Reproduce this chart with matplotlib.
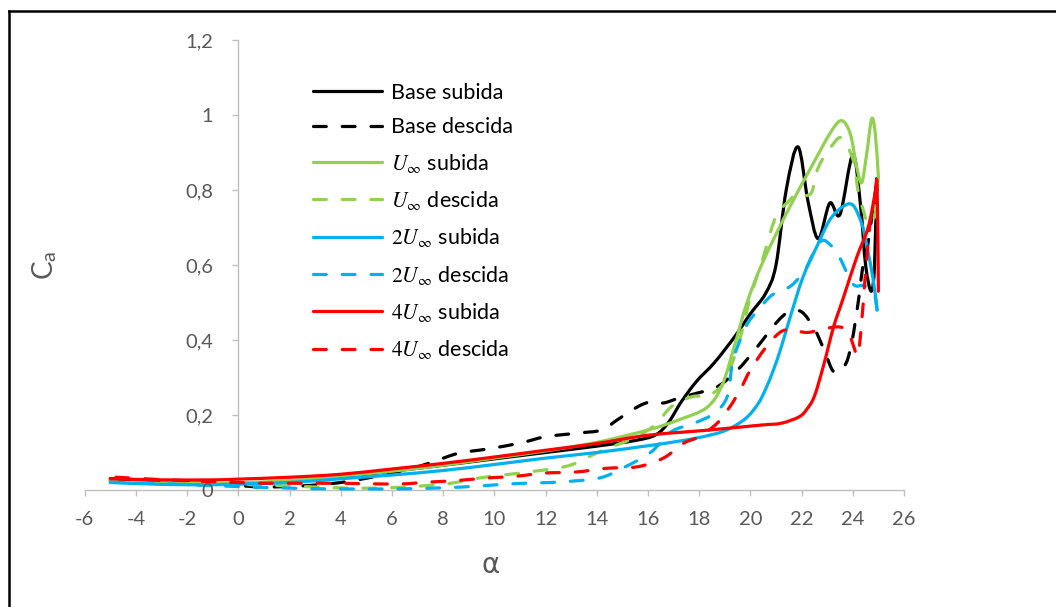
import numpy as np
import matplotlib
matplotlib.use("Agg")
import matplotlib.pyplot as plt
from matplotlib.path import Path
from matplotlib.patches import PathPatch
from matplotlib.lines import Line2D

plt.rcParams['font.family'] = ['Lato', 'DejaVu Sans']
plt.rcParams['mathtext.fontset'] = 'stix'

# --- Lift coefficient loops: angle of attack (deg) vs C_a ---
base_up_a = [-5, -3, -1, 0, 2, 4, 6, 8, 10, 12, 14, 15.5, 16.3, 16.8, 17.3, 17.9,
             18.6, 19.4, 20.0, 20.6, 21.0, 21.4, 21.86, 22.25, 22.65, 23.1, 23.5,
             24.0, 24.3, 24.5, 24.72, 24.85, 24.93]
base_up_c = [0.025, 0.019, 0.016, 0.017, 0.022, 0.035, 0.05, 0.066, 0.083, 0.1,
             0.117, 0.132, 0.147, 0.18, 0.235, 0.29, 0.34, 0.41, 0.47, 0.525, 0.6,
             0.8, 0.915, 0.77, 0.67, 0.765, 0.735, 0.893, 0.76, 0.6, 0.53, 0.6, 0.83]

base_down_a = [24.93, 24.6, 24.4, 24.25, 24.1, 23.95, 23.75, 23.45, 23.2, 22.9, 22.5,
               22.0, 21.5, 21.0, 20.25, 19.5, 18.7, 17.9, 17.2, 16.6, 16.1, 15.6,
               14.8, 14.2, 13.3, 12.0, 11.0, 9.7, 8.6, 7.6, 6.8, 5.5, 4.0, 2.5, 1.0,
               0, -1.5, -3, -5]
base_down_c = [0.82, 0.66, 0.6, 0.52, 0.45, 0.39, 0.34, 0.315, 0.32, 0.37, 0.43,
               0.475, 0.475, 0.445, 0.38, 0.32, 0.275, 0.258, 0.245, 0.232, 0.235,
               0.222, 0.187, 0.16, 0.152, 0.142, 0.125, 0.109, 0.098, 0.075, 0.058,
               0.038, 0.02, 0.011, 0.008, 0.012, 0.02, 0.025, 0.03]

u1_up_a = [-5, -3, -1, 0, 2, 4, 6, 8, 10, 12, 14, 16, 17.2, 18.3, 18.9, 19.4, 19.87,
           20.5, 21.5, 22.45, 23.1, 23.55, 23.9, 24.15, 24.35, 24.55, 24.74, 24.88, 25.0]
u1_up_c = [0.022, 0.018, 0.017, 0.019, 0.025, 0.037, 0.05, 0.066, 0.085, 0.104,
           0.127, 0.16, 0.187, 0.22, 0.28, 0.39, 0.5, 0.61, 0.75, 0.87, 0.95, 0.985,
           0.95, 0.862, 0.82, 0.9, 0.99, 0.95, 0.835]

u1_down_a = [25.0, 24.85, 24.6, 24.35, 24.2, 24.05, 23.8, 23.5, 23.1, 22.65, 22.4,
             22.1, 21.8, 21.5, 21.0, 20.5, 20.0, 19.7, 19.3, 18.9, 18.3, 17.8, 17.2,
             16.8, 16.3, 15.5, 14.2, 13.0, 11.9, 10.6, 9.4, 8.3, 7.0, 5.8, 4.5, 3.0,
             1.5, 0, -2.5, -5]
u1_down_c = [0.835, 0.73, 0.71, 0.76, 0.8, 0.87, 0.915, 0.94, 0.91, 0.86, 0.795,
             0.785, 0.79, 0.77, 0.73, 0.62, 0.515, 0.43, 0.34, 0.28, 0.25, 0.25,
             0.235, 0.215, 0.175, 0.14, 0.105, 0.067, 0.053, 0.042, 0.032, 0.018,
             0.01, 0.006, 0.005, 0.008, 0.012, 0.015, 0.022, 0.028]

u2_up_a = [-5, -3, -1, 0, 2, 4, 6, 8, 10, 12, 14, 16, 17, 18, 19, 19.8, 20.3, 20.6,
           20.9, 21.2, 21.55, 22.05, 22.6, 23.1, 23.6, 24.0, 24.35, 24.55, 24.8, 24.95]
u2_up_c = [0.02, 0.015, 0.014, 0.016, 0.02, 0.03, 0.04, 0.052, 0.068, 0.085, 0.1,
           0.118, 0.128, 0.14, 0.158, 0.19, 0.23, 0.27, 0.32, 0.38, 0.46, 0.567,
           0.65, 0.72, 0.755, 0.76, 0.71, 0.65, 0.56, 0.48]

u2_down_a = [24.95, 24.8, 24.4, 24.0, 23.45, 23.1, 22.8, 22.45, 22.15, 21.6, 20.85,
             20.3, 19.9, 19.6, 19.3, 19.1, 18.6, 17.8, 16.9, 16.1, 15.0, 14.1, 12.7,
             11.7, 10.5, 9.3, 8, 6.3, 3.7, 2, 0.45, -1.5, -3.5, -5]
u2_down_c = [0.48, 0.53, 0.545, 0.55, 0.625, 0.655, 0.665, 0.63, 0.59, 0.545, 0.52,
             0.48, 0.445, 0.4, 0.34, 0.25, 0.205, 0.178, 0.155, 0.1, 0.058, 0.032,
             0.022, 0.019, 0.016, 0.01, 0.006, 0.003, 0.003, 0.005, 0.008, 0.013,
             0.018, 0.021]

u4_up_a = [-5, -3, -1, 0, 2, 4, 6, 8, 10, 12, 14, 16, 18.4, 20.4, 21.2, 21.9, 22.2,
           22.5, 22.85, 23.25, 23.6, 24.15, 24.6, 24.87, 24.95, 25.0]
u4_up_c = [0.03, 0.027, 0.027, 0.029, 0.034, 0.042, 0.056, 0.071, 0.088, 0.106,
           0.124, 0.146, 0.16, 0.173, 0.178, 0.195, 0.215, 0.25, 0.33, 0.435, 0.506,
           0.62, 0.7, 0.79, 0.81, 0.53]

u4_down_a = [24.95, 24.8, 24.67, 24.55, 24.45, 24.35, 24.2, 24.0, 23.8, 23.4, 22.7,
             22.2, 21.55, 21.15, 20.6, 20.0, 19.6, 19.2, 18.7, 18.0, 17.4, 16.6, 15.6,
             14.4, 13.2, 11.9, 10.9, 9.7, 8.5, 7.4, 6.2, 3.7, 1.1, -0.45, -2.8, -5]
u4_down_c = [0.8, 0.76, 0.71, 0.62, 0.54, 0.45, 0.36, 0.39, 0.425, 0.435, 0.427,
             0.42, 0.427, 0.42, 0.38, 0.32, 0.267, 0.222, 0.178, 0.142, 0.125, 0.085,
             0.062, 0.058, 0.048, 0.045, 0.037, 0.032, 0.025, 0.021, 0.016, 0.018,
             0.018, 0.021, 0.027, 0.035]

series_labels = ['Base subida', 'Base descida',
                 r'$U_\infty$ subida', r'$U_\infty$ descida',
                 r'$2U_\infty$ subida', r'$2U_\infty$ descida',
                 r'$4U_\infty$ subida', r'$4U_\infty$ descida']

x_ticks = list(range(-6, 27, 2))
y_ticks = [0, 0.2, 0.4, 0.6, 0.8, 1.0, 1.2]
y_tick_labels = ['0', '0,2', '0,4', '0,6', '0,8', '1', '1,2']

series = [
    (base_up_a, base_up_c, '#000000', False),
    (base_down_a, base_down_c, '#000000', True),
    (u1_up_a, u1_up_c, '#92D050', False),
    (u1_down_a, u1_down_c, '#92D050', True),
    (u2_up_a, u2_up_c, '#00B0F0', False),
    (u2_down_a, u2_down_c, '#00B0F0', True),
    (u4_up_a, u4_up_c, '#FF0000', False),
    (u4_down_a, u4_down_c, '#FF0000', True),
]

LW = 2.3
DASH = (0, (4.0, 5.0))


def smooth_path(xs, ys):
    """Cubic Bezier path through the points (Catmull-Rom style smoothing)."""
    pts = np.column_stack([xs, ys]).astype(float)
    n = len(pts)
    verts = [pts[0]]
    codes = [Path.MOVETO]
    for i in range(n - 1):
        p0 = pts[i - 1] if i > 0 else pts[i]
        p1 = pts[i]
        p2 = pts[i + 1]
        p3 = pts[i + 2] if i + 2 < n else pts[i + 1]
        c1 = p1 + (p2 - p0) / 6.0
        c2 = p2 - (p3 - p1) / 6.0
        verts += [c1, c2, p2]
        codes += [Path.CURVE4] * 3
    return Path(verts, codes)


W, H = 1056, 607
fig = plt.figure(figsize=(W / 100, H / 100), dpi=100)
ax = fig.add_axes([84.7 / W, 1 - 490 / H, (904 - 84.7) / W, 450 / H])

handles = []
for (xs, ys, color, dashed), label in zip(series, series_labels):
    ls = DASH if dashed else '-'
    patch = PathPatch(smooth_path(xs, ys), fill=False, edgecolor=color, lw=LW,
                      linestyle=ls, capstyle='round', joinstyle='round',
                      clip_on=False)
    ax.add_patch(patch)
    handles.append(Line2D([], [], color=color, lw=LW, linestyle=ls,
                          dash_capstyle='round', solid_capstyle='round',
                          label=label))

ax.set_xlim(-6, 26)
ax.set_ylim(0, 1.2)

axis_grey = '#BFBFBF'
text_grey = '#595959'
for side in ('top', 'right'):
    ax.spines[side].set_visible(False)
ax.spines['left'].set_position(('data', 0))
for side in ('left', 'bottom'):
    ax.spines[side].set_color(axis_grey)
    ax.spines[side].set_linewidth(1.0)
    ax.spines[side].set_zorder(0.5)

ax.set_xticks(x_ticks)
ax.set_xticklabels([str(t) for t in x_ticks])
ax.set_yticks(y_ticks)
ax.set_yticklabels(y_tick_labels)
ax.tick_params(axis='both', direction='out', length=4, width=1.0,
               color=axis_grey, labelcolor=text_grey, labelsize=14.5)
ax.tick_params(axis='y', pad=14)
ax.tick_params(axis='x', pad=11)

fig.text(45 / W, 1 - 265 / H, r'C$_\mathregular{a}$', rotation=90,
         ha='center', va='center', fontsize=20, color=text_grey)
fig.text(491 / W, 1 - 565 / H, 'α', ha='center', va='center', fontsize=20,
         color=text_grey, family=['DejaVu Sans'])

leg = ax.legend(handles=handles, loc='upper left',
                bbox_to_anchor=((313 - 84.7) / (904 - 84.7), (490 - 83) / 450),
                frameon=False, fontsize=15.5, handlelength=3.2,
                handletextpad=0.42, labelspacing=0.665, borderpad=0,
                borderaxespad=0)
for t in leg.get_texts():
    t.set_color('#000000')

# page frame
fig.add_artist(Line2D([8.5 / W, 8.5 / W], [0, 1 - 10.5 / H],
                      transform=fig.transFigure, color='black', lw=1.8))
fig.add_artist(Line2D([8.5 / W, 1], [1 - 10.5 / H, 1 - 10.5 / H],
                      transform=fig.transFigure, color='black', lw=1.8))

fig.savefig('out.png', dpi=100, facecolor='white')
